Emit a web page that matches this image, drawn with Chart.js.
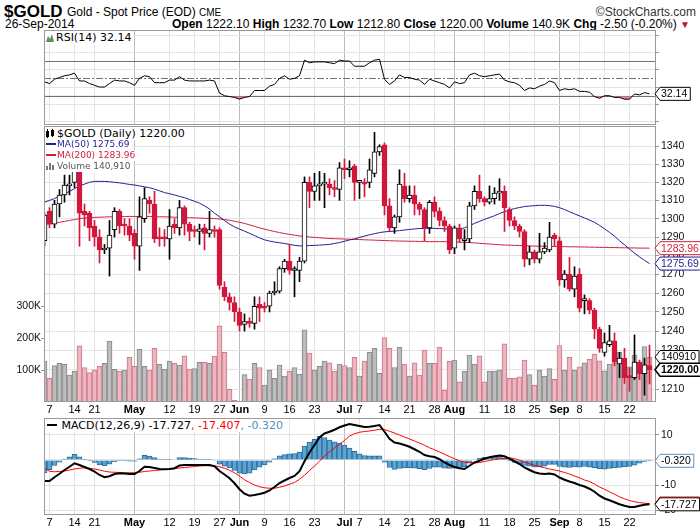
<!DOCTYPE html>
<html>
<head>
<meta charset="utf-8">
<script src="https://cdn.jsdelivr.net/npm/chart.js@4.4.1/dist/chart.umd.min.js"></script>
<style>
body { margin: 0; background: #fff; width: 700px; height: 530px; overflow: hidden; position: relative; font-family: "Liberation Sans", Arial, sans-serif; }
canvas { position: absolute; left: 0; }
.t { position: absolute; white-space: nowrap; line-height: 1; }
.lg { position: absolute; white-space: nowrap; background: #fff; font-family: "DejaVu Sans", sans-serif; line-height: 1; padding: 1px 2px 1px 1px; }
.ln { display: inline-block; width: 10px; height: 2px; vertical-align: middle; margin-right: 1px; position: relative; top: -1px; }
</style>
</head>
<body>
<div class="t" style="left:4px;top:3px;font-weight:bold;font-size:17px">$GOLD</div>
<div class="t" style="left:67px;top:6px;font-size:12px">Gold - Spot Price (EOD) <span style="font-size:10px">CME</span></div>
<div class="t" style="right:4px;top:6px;font-size:12px;color:#333">&copy;StockCharts.com</div>
<div class="t" style="left:5px;top:18px;font-size:12px">26-Sep-2014</div>
<div class="t" id="ohlc" style="right:10px;top:18px;font-size:12px"></div>

<canvas id="rsi" width="700" height="95" style="top:30px;width:700px;height:95px"></canvas>
<canvas id="price" width="700" height="291" style="top:126px;width:700px;height:291px"></canvas>
<canvas id="macd" width="700" height="112" style="top:418px;width:700px;height:112px"></canvas>

<div class="lg" id="rsiLegend" style="left:45px;top:31px;font-size:11px"></div>
<div class="lg" id="priceLegend1" style="left:45px;top:127px;font-size:11px"></div>
<div class="lg" id="priceLegend2" style="left:45px;top:139px;font-size:9px;color:#1f1f94"></div>
<div class="lg" id="priceLegend3" style="left:45px;top:150px;font-size:9px;color:#d21f3c"></div>
<div class="lg" id="priceLegend4" style="left:45px;top:161px;font-size:9px;color:#555"></div>
<div class="lg" id="macdLegend" style="left:46px;top:419px;font-size:11px"></div>

<script>
// trading days, 4 Apr 2014 .. 26 Sep 2014
const dates = [
  '04-04','04-07','04-08','04-09','04-10','04-11','04-14','04-15','04-16','04-17',
  '04-21','04-22','04-23','04-24','04-25','04-28','04-29','04-30','05-01','05-02',
  '05-05','05-06','05-07','05-08','05-09','05-12','05-13','05-14','05-15','05-16',
  '05-19','05-20','05-21','05-22','05-23','05-27','05-28','05-29','05-30','06-02',
  '06-03','06-04','06-05','06-06','06-09','06-10','06-11','06-12','06-13','06-16',
  '06-17','06-18','06-19','06-20','06-23','06-24','06-25','06-26','06-27','06-30',
  '07-01','07-02','07-03','07-07','07-08','07-09','07-10','07-11','07-14','07-15',
  '07-16','07-17','07-18','07-21','07-22','07-23','07-24','07-25','07-28','07-29',
  '07-30','07-31','08-01','08-04','08-05','08-06','08-07','08-08','08-11','08-12',
  '08-13','08-14','08-15','08-18','08-19','08-20','08-21','08-22','08-25','08-26',
  '08-27','08-28','08-29','09-02','09-03','09-04','09-05','09-08','09-09','09-10',
  '09-11','09-12','09-15','09-16','09-17','09-18','09-19','09-22','09-23','09-24',
  '09-25','09-26'
];

const xTickDates = ['04-07','04-14','04-21','05-01','05-12','05-19','05-27','06-02','06-09','06-16','06-23','07-01',
  '07-07','07-14','07-21','07-28','08-01','08-11','08-18','08-25','09-02','09-08','09-15','09-22'];
const xTickText = ['7','14','21','May','12','19','27','Jun','9','16','23','Jul',
  '7','14','21','28','Aug','11','18','25','Sep','8','15','22'];

const opens = [
  1288,1304,1297,1308,1313,1318,1320,1327,1304,1303,
  1296,1290,1283,1284,1294,1304,1297,1296,1292,1285,
  1300,1310,1308,1290,1290,1289,1297,1295,1306,1297,
  1294,1293,1295,1292,1294,1294,1263,1258,1255,1250,
  1243.5,1245,1244,1254,1253,1253,1260,1261,1273,1277,
  1272,1272,1277,1320,1315,1318,1319,1319,1317,1316,
  1328,1327,1329,1320,1320,1320,1325,1337,1341,1307,
  1295,1301,1318,1311,1313,1308,1305,1295,1309,1304,
  1299,1296,1284,1295,1288,1289,1307,1315,1311,1309,
  1311,1314,1315,1305,1299,1296,1293,1278,1282,1278,
  1282,1283,1291,1288,1267,1270,1262,1270,1256,1256,
  1251,1241,1229,1233,1235,1223,1226,1217,1216,1224,
  1218,1222.1
];
const highs = [
  1303,1306,1310,1316,1324,1324,1331,1330,1308,1304,
  1299,1294,1286,1299,1306,1305,1300,1300,1294,1312,
  1317,1312,1315,1295,1294,1305,1300,1310,1307,1298,
  1296,1297,1297,1304,1296,1295,1266,1260,1258,1252,
  1249,1247,1258,1258,1255,1261,1266,1274,1278,1286,
  1274,1279,1323,1323,1325,1326,1325,1322,1321,1331,
  1333,1332,1330,1321,1322,1333,1348,1341,1342,1311,
  1302,1327,1325,1318,1318,1309,1306,1310,1312,1306,
  1301,1297,1296,1297,1294,1309,1318,1324,1312,1318,
  1317,1322,1318,1306,1301,1297,1294,1285,1283,1292,
  1287,1298,1292,1290,1272,1279,1274,1273,1259,1257,
  1252,1242,1239,1243,1239,1229,1231,1221,1238,1225,
  1226,1232.7
];
const lows = [
  1285,1295,1295,1301,1309,1313,1317,1285,1296,1288,
  1285,1276,1281,1269,1290,1292,1291,1288,1278,1272,
  1298,1303,1287,1285,1285,1278,1292,1291,1291,1288,
  1290,1286,1283,1290,1290,1262,1256,1251,1245,1240,
  1240,1242,1241,1245,1250,1250,1259,1260,1271,1270,
  1258,1266,1276,1306,1310,1310,1306,1313,1312,1310,
  1322,1323,1310,1311,1312,1317,1323,1335,1302,1293,
  1292,1298,1309,1309,1302,1302,1288,1292,1301,1296,
  1293,1281,1281,1287,1283,1287,1305,1309,1307,1308,
  1308,1310,1293,1296,1294,1290,1274,1275,1276,1276,
  1281,1282,1285,1264,1263,1261,1258,1250,1249,1249,
  1236,1229,1227,1232,1222,1216,1213,1209,1215,1215,
  1207,1212.8
];
const closes = [
  1302,1297,1308,1313,1318.5,1319,1327,1303,1302,1295,
  1290,1283,1284,1291,1304,1296,1296,1291,1285,1301,
  1311,1308,1289,1289,1289,1296,1295,1306,1297,1293,
  1293,1294.5,1292,1294,1293,1264,1258,1255,1250,1243,
  1245,1244,1253,1252,1252,1260,1261,1273,1277,1272,
  1272.5,1277,1320,1315,1318,1319,1319.5,1317,1316,1328,
  1327,1328,1320,1320.5,1319,1327,1337,1340,1307,1295,
  1301,1319,1311,1313,1308,1305,1295,1309,1304,1299,
  1296,1283,1295,1289,1289,1307,1315,1311,1309,1311,
  1314,1315,1306,1299,1296,1293,1278,1282,1278,1282,
  1284,1290,1289,1267,1270,1262,1269,1252,1256.5,1251,
  1241,1231,1234,1235,1224,1226,1216,1216,1224,1218,
  1222.5,1220
];
// volume in thousands
const volumeK = [
  128,74,114,121,118,84,97,176,108,92,
  100,112,121,191,102,97,100,140,112,165,
  112,100,168,118,102,128,121,116,145,103,
  105,124,124,121,144,239,156,40,5,3,
  86,71,121,108,53,100,74,116,81,97,
  108,87,226,153,100,112,128,123,97,119,
  114,108,140,81,128,156,168,90,202,168,
  108,172,119,81,123,84,163,121,121,172,
  37,128,131,63,97,147,119,145,63,97,
  97,100,182,74,74,79,131,86,53,100,
  81,105,71,177,100,140,100,110,123,134,
  150,129,98,119,168,156,86,110,147,121,
  174,140.91
];
const ma50 = [
  1309,1310,1311,1312.5,1313.5,1315,1316.5,1318,1319,1320,
  1320.5,1320.5,1320.5,1320.3,1320,1319.7,1319.3,1318.8,1318.5,1318,
  1317.5,1317,1316.2,1315.3,1314.3,1313.7,1313,1312.2,1311.5,1310.5,
  1309.5,1308.5,1307,1305.3,1303,1301,1299,1297,1295.5,1294.3,
  1293.2,1292,1290.8,1289.5,1288.5,1287.8,1287.3,1286.9,1286.5,1286,
  1285.5,1285.2,1285.2,1285.4,1285.5,1285.6,1285.8,1286,1286.5,1287,
  1287.7,1288.4,1289,1289.8,1290.5,1291.2,1291.8,1292.4,1292.8,1293,
  1293.2,1293.5,1293.8,1294.1,1294.4,1294.6,1294.7,1294.7,1294.7,1294.6,
  1294.5,1294.2,1294,1294,1295,1296.2,1297.4,1298.5,1299.6,1300.6,
  1301.6,1302.8,1303.8,1304.8,1305.5,1306.1,1306.6,1306.9,1307.1,1307.3,
  1307.3,1307.1,1306.7,1306,1305,1303.8,1302.6,1301.5,1300.4,1299.2,
  1298,1296.3,1294.5,1292.5,1290.5,1288,1285.8,1283.5,1281.3,1279.3,
  1277.4,1275.69
];
const ma200 = [
  1296.8,1297.2,1297.6,1298,1298.5,1299,1299.5,1300,1300.3,1300.5,
  1300.7,1300.8,1300.9,1301,1301,1301.1,1301.1,1301.2,1301.2,1301.2,
  1301.2,1301.2,1301.1,1301,1301,1300.9,1300.8,1300.7,1300.6,1300.5,
  1300.4,1300.3,1300.2,1300.1,1300,1299.8,1299.5,1299.1,1298.6,1298,
  1297.4,1296.6,1295.8,1295,1294.3,1293.6,1293,1292.4,1291.9,1291.4,
  1291,1290.6,1290.3,1290,1289.8,1289.6,1289.4,1289.2,1289.1,1289,
  1288.9,1288.8,1288.7,1288.6,1288.5,1288.4,1288.3,1288.2,1288.1,1288,
  1287.9,1287.8,1287.8,1287.7,1287.7,1287.6,1287.6,1287.5,1287.5,1287.5,
  1287.5,1287.4,1287.3,1287.2,1287.1,1287,1286.8,1286.6,1286.4,1286.2,
  1286,1285.8,1285.7,1285.6,1285.5,1285.4,1285.3,1285.2,1285.1,1285,
  1285,1284.9,1284.9,1284.8,1284.8,1284.7,1284.7,1284.6,1284.6,1284.5,
  1284.5,1284.4,1284.4,1284.3,1284.3,1284.2,1284.2,1284.1,1284.1,1284,
  1284,1283.96
];
const rsi14 = [
  46,44,49,51,53,54,56,47,47,44,
  42,40,40,44,48,47,47,45,42,50,
  53,52,45,45,45,48,48,52,48,47,
  47,47,47,48,47,33,30,29,28,26,
  28,29,36,36,36,41,43,50,53,49,
  50,53,71,68,69,69,69,68,67,71,
  70,70,64,64,64,68,71,72,49,43,
  47,54,51,51,49,48,43,49,47,45,
  43,39,46,44,45,54,56,53,52,53,
  54,55,48,46,45,42,36,39,38,41,
  43,47,45,36,38,37,38,35,35,34,
  29,27,30,30,28,28,26,26,32,31,
  33.5,32.14
];
const macdLine = [
  -8.4,-8.4,-6.9,-5.5,-4,-2.7,-1.3,-2,-2.8,-3.6,
  -4.6,-6,-6.9,-6.5,-5.6,-5.3,-5.4,-5.6,-5.6,-4.4,
  -2.7,-2.8,-3.2,-3.6,-3.7,-3.6,-3.3,-2.2,-2,-2,
  -2,-2,-2,-2,-2.5,-4.4,-5.8,-7.3,-9.3,-11.7,
  -13.5,-14.3,-14,-13.6,-13.1,-12.2,-10.8,-9.2,-8.2,-7.2,
  -6.4,-4.5,-0.5,3,6,9,10.6,11.3,12.1,13.1,
  13.8,14.4,14,13.6,13.2,13.3,13.6,14,11.3,8.5,
  7,6.6,6,5.3,4.3,3.3,2,1.5,1.2,0.3,
  -1,-2,-2.8,-3.3,-3.6,-2.3,-1,-0.3,0.5,1.1,
  1.5,1.8,1.5,0.5,-0.5,-1.6,-3,-4,-4.9,-5.4,
  -5.6,-5.4,-5.8,-7,-7.9,-8.6,-9.2,-10,-10.6,-11.5,
  -12.7,-14.3,-15.4,-16.1,-16.9,-17.7,-18.3,-18.8,-18.8,-18.3,
  -17.9,-17.727
];
const signalLine = [
  -3.3,-4.5,-4.7,-4.6,-4.4,-4,-3.6,-3.3,-3.1,-3.3,
  -3.6,-4,-4.5,-4.8,-4.9,-5,-5.1,-5.1,-5.1,-4.9,
  -4.6,-4.4,-4.2,-4,-3.8,-3.7,-3.5,-3.2,-3,-2.8,
  -2.6,-2.4,-2.3,-2.3,-2.3,-2.7,-3.3,-4.1,-5.1,-6.4,
  -7.9,-9,-10,-10.7,-11.1,-11.3,-11.3,-10.9,-10.4,-9.7,
  -9,-7.7,-6.1,-4.2,-2.4,-0.5,1.6,3.3,4.8,6.3,
  7.8,9.6,10.5,11.1,11.4,11.6,11.9,12.3,12.2,11.5,
  10.8,10,9.2,8.4,7.6,6.8,5.9,4.9,4.1,3.2,
  2.3,1.4,0.5,-0.3,-0.9,-1.1,-1.2,-1,-0.6,-0.2,
  0.2,0.4,0.8,0.9,0.5,-0.1,-0.8,-1.5,-2.1,-2.6,
  -3.1,-3.6,-4,-4.4,-5,-5.6,-6.4,-7.1,-8,-8.6,
  -9.6,-10.8,-11.7,-12.7,-13.7,-14.7,-15.5,-16.2,-16.7,-17,
  -17.3,-17.407
];
const histogram = [
  -5.1,-3.9,-2.2,-0.9,0.4,1.3,2.3,1.3,0.3,-0.3,
  -1,-2,-2.4,-1.7,-0.7,-0.3,-0.3,-0.5,-0.5,0.5,
  1.9,1.6,1,0.4,0.1,0.1,0.2,1,1,0.8,
  0.6,0.4,0.3,0.3,-0.2,-1.7,-2.5,-3.2,-4.2,-5.3,
  -5.6,-5.3,-4,-2.9,-2,-0.9,0.5,1.7,2.2,2.5,
  2.6,3.2,5.6,7.2,8.4,9.5,9,8,7.3,6.8,
  6,4.8,3.5,2.5,1.8,1.7,1.7,1.7,-0.9,-3,
  -3.8,-3.4,-3.2,-3.1,-3.3,-3.5,-3.9,-3.4,-2.9,-2.9,
  -3.3,-3.4,-3.3,-3,-2.7,-1.2,0.2,0.7,1.1,1.3,
  1.3,1.4,0.7,-0.4,-1,-1.5,-2.2,-2.5,-2.8,-2.8,
  -2.5,-1.8,-1.8,-2.6,-2.9,-3,-2.8,-2.9,-2.6,-2.9,
  -3.1,-3.5,-3.7,-3.4,-3.2,-3,-2.8,-2.6,-2.1,-1.3,
  -0.6,-0.32
];

const priceTicks = [1210,1220,1230,1240,1250,1260,1270,1280,1290,1300,1310,1320,1330,1340];
const volumeTicks = [100,200,300];
const rsiTicks = [0,10,20,30,40,50,60,70,80,90,100];
const rsiLabels = [10,30,50,70,90];
const macdTicks = [-20,-15,-10,-5,0,5,10,15];
const macdLabels = [-20,-10,0,10];

const FONT = "'Liberation Sans', Arial, sans-serif";
const RED = '#d3163c';
const NAVY = '#1f1f94';
const MA_RED = '#d21f3c';
const last = closes.length - 1;
const xTickIdx = xTickDates.map(d => dates.indexOf(d));
const pt = arr => arr.map((v, k) => ({ x: k, y: v }));
const isMonth = i => isNaN(+xTickText[i]);

function xScale(showLabels) {
  return {
    type: 'linear', min: -0.1, max: 122.3, offset: false, bounds: 'data',
    afterBuildTicks: s => { s.ticks = xTickIdx.map(v => ({ value: v })); },
    afterFit: s => { s.height = showLabels ? 15 : 0; s.paddingLeft = 0; s.paddingRight = 0; },
    grid: { offset: false, drawTicks: false, color: c => isMonth(c.index) ? '#bcbcbc' : '#e3e3e3' },
    border: { display: false },
    ticks: {
      display: showLabels, autoSkip: false, maxRotation: 0, padding: 1, color: '#000',
      callback: (v, i) => xTickText[i],
      font: c => ({ family: FONT, size: 11, weight: isMonth(c.index) ? 'bold' : 'normal' })
    }
  };
}

function yRight(min, max, ticks, labelFn, type) {
  return {
    type: type || 'linear', position: 'right', min: min, max: max, bounds: 'data',
    afterBuildTicks: s => { s.ticks = ticks.map(v => ({ value: v })); },
    afterFit: s => { s.width = 44; s.paddingTop = 0; s.paddingBottom = 0; },
    grid: { color: '#e3e3e3', tickLength: 3, tickColor: '#999' },
    border: { display: false },
    ticks: { padding: 2, color: '#111', font: { family: FONT, size: 10.5 }, callback: labelFn }
  };
}

const frame = {
  id: 'frame',
  afterDatasetsDraw(chart) {
    const ctx = chart.ctx, a = chart.chartArea;
    ctx.save();
    ctx.strokeStyle = '#9a9a9a';
    ctx.lineWidth = 1;
    ctx.strokeRect(Math.round(a.left) + 0.5, Math.round(a.top) + 0.5, Math.round(a.width) - 1, Math.round(a.height) - 1);
    ctx.restore();
  }
};

function drawTag(ctx, x, y, t) {
  ctx.save();
  ctx.font = (t.bold ? 'bold ' : '') + '10.5px ' + FONT;
  const w = ctx.measureText(t.text).width;
  const h = 13;
  ctx.beginPath();
  ctx.moveTo(x, y);
  ctx.lineTo(x + 5, y - h / 2);
  ctx.lineTo(x + 9 + w, y - h / 2);
  ctx.lineTo(x + 9 + w, y + h / 2);
  ctx.lineTo(x + 5, y + h / 2);
  ctx.closePath();
  ctx.fillStyle = '#fff';
  ctx.fill();
  ctx.lineWidth = t.bold ? 1.6 : 1;
  ctx.strokeStyle = t.border;
  ctx.stroke();
  ctx.fillStyle = t.color;
  ctx.textBaseline = 'middle';
  ctx.fillText(t.text, x + 6, y + 0.5);
  ctx.restore();
}

function tagPlugin(items) {
  return {
    id: 'tags',
    afterDraw(chart) {
      const x0 = chart.chartArea.right - 1;
      items.forEach(t => drawTag(chart.ctx, x0, chart.scales[t.axis].getPixelForValue(t.value), t));
    }
  };
}

const rsiLevels = {
  id: 'rsiLevels',
  beforeDatasetsDraw(chart) {
    const ctx = chart.ctx, a = chart.chartArea, y = chart.scales.y;
    ctx.save();
    ctx.strokeStyle = '#707070';
    ctx.lineWidth = 1;
    [70, 50, 30].forEach(v => {
      const py = Math.round(y.getPixelForValue(v)) + 0.5;
      ctx.setLineDash(v === 50 ? [7, 2, 2, 2] : []);
      ctx.beginPath();
      ctx.moveTo(a.left, py);
      ctx.lineTo(a.right, py);
      ctx.stroke();
    });
    ctx.restore();
  }
};

const common = {
  responsive: false,
  animation: false,
  events: [],
  plugins: { legend: { display: false }, tooltip: { enabled: false } }
};

// RSI panel
new Chart(document.getElementById('rsi'), {
  type: 'line',
  data: {
    datasets: [{
      data: pt(rsi14), borderColor: '#000', borderWidth: 1, pointRadius: 0, tension: 0,
      fill: { target: { value: 30 }, above: 'rgba(0,0,0,0)', below: 'rgba(214,112,134,0.8)' }
    }]
  },
  options: Object.assign({}, common, {
    layout: { padding: { left: 44 } },
    scales: {
      x: xScale(false),
      y: yRight(-3.8, 105.8, rsiTicks, v => rsiLabels.includes(v) ? String(v) : '')
    }
  }),
  plugins: [rsiLevels, frame, tagPlugin([
    { axis: 'y', value: rsi14[last], text: rsi14[last].toFixed(2), border: '#000', color: '#000' }
  ])]
});

// price panel: candles from floating bars, MAs, volume
const bodies = closes.map((c, k) => ({ x: k, y: [opens[k], c] }));
const wicks = closes.map((c, k) => ({ x: k, y: [lows[k], highs[k]] }));
const down = closes.map((c, k) => c < opens[k]);
const volDown = closes.map((c, k) => k > 0 && c < closes[k - 1]);

const volAxis = {
  type: 'linear', position: 'left', min: 0, max: 865, bounds: 'data',
  afterBuildTicks: s => { s.ticks = volumeTicks.map(v => ({ value: v })); },
  afterFit: s => { s.width = 44; s.paddingTop = 0; s.paddingBottom = 0; },
  grid: { drawOnChartArea: false, tickLength: 3, tickColor: '#999' },
  border: { display: false },
  ticks: { padding: 0, color: '#111', font: { family: FONT, size: 10.5 }, callback: v => v + 'K' }
};

new Chart(document.getElementById('price'), {
  type: 'bar',
  data: {
    datasets: [
      {
        data: bodies, grouped: false, barThickness: 5, minBarLength: 2, borderWidth: 1, borderSkipped: false,
        backgroundColor: down.map(d => d ? RED : '#fff'),
        borderColor: down.map(d => d ? RED : '#000'), order: 0
      },
      {
        data: wicks, grouped: false, barThickness: 1, borderWidth: 0,
        backgroundColor: down.map(d => d ? RED : '#000'), order: 1
      },
      { type: 'line', data: pt(ma50), borderColor: NAVY, borderWidth: 1, pointRadius: 0, order: 2 },
      { type: 'line', data: pt(ma200), borderColor: MA_RED, borderWidth: 1, pointRadius: 0, order: 2 },
      {
        data: pt(volumeK), yAxisID: 'yVol', grouped: false, barThickness: 5, borderWidth: 1,
        backgroundColor: volDown.map(d => d ? 'rgba(234,178,188,0.9)' : 'rgba(184,184,184,0.9)'),
        borderColor: volDown.map(d => d ? '#d27a8a' : '#8c8c8c'), order: 3
      }
    ]
  },
  options: Object.assign({}, common, {
    scales: {
      x: xScale(true),
      y: yRight(1203.6, 1351.6, priceTicks, v => String(v), 'logarithmic'),
      yVol: volAxis
    }
  }),
  plugins: [frame, tagPlugin([
    { axis: 'y', value: ma200[last], text: ma200[last].toFixed(2), border: MA_RED, color: MA_RED },
    { axis: 'y', value: ma50[last], text: ma50[last].toFixed(2), border: NAVY, color: NAVY },
    { axis: 'yVol', value: volumeK[last], text: String(Math.round(volumeK[last] * 1000)), border: '#000', color: '#000' },
    { axis: 'y', value: closes[last], text: closes[last].toFixed(2), border: '#000', color: '#000', bold: true }
  ])]
});

// MACD panel
new Chart(document.getElementById('macd'), {
  type: 'bar',
  data: {
    datasets: [
      { type: 'line', data: pt(macdLine), borderColor: '#000', borderWidth: 2, pointRadius: 0, order: 0 },
      { type: 'line', data: pt(signalLine), borderColor: '#f00', borderWidth: 1, pointRadius: 0, order: 1 },
      {
        data: pt(histogram), grouped: false, barThickness: 5, borderWidth: 1,
        backgroundColor: '#5ba3d1', borderColor: '#2c6c9b', order: 2
      }
    ]
  },
  options: Object.assign({}, common, {
    layout: { padding: { left: 44 } },
    scales: {
      x: xScale(true),
      y: yRight(-22, 16.8, macdTicks, v => macdLabels.includes(v) ? String(v) : '')
    }
  }),
  plugins: [frame, tagPlugin([
    { axis: 'y', value: histogram[last], text: histogram[last].toFixed(3), border: '#5b8ec9', color: '#000' },
    { axis: 'y', value: signalLine[last], text: signalLine[last].toFixed(3), border: '#f00', color: '#f00' },
    { axis: 'y', value: macdLine[last], text: macdLine[last].toFixed(3), border: '#000', color: '#000' }
  ])]
});

// header and legends
const chg = closes[last] - closes[last - 1];
document.getElementById('ohlc').innerHTML =
  '<b>Open</b> ' + opens[last].toFixed(2) + ' <b>High</b> ' + highs[last].toFixed(2) +
  ' <b>Low</b> ' + lows[last].toFixed(2) + ' <b>Close</b> ' + closes[last].toFixed(2) +
  ' <b>Volume</b> ' + volumeK[last].toFixed(1) + 'K <b>Chg</b> ' + chg.toFixed(2) +
  ' (' + (chg / closes[last - 1] * 100).toFixed(2) + '%) <span style="color:#c8102e;font-size:10px">&#9660;</span>';

const mountain = '<svg width="8" height="8" style="vertical-align:-1px;margin-right:2px"><polygon points="0,8 2,2 4,5 6,0 8,8" fill="#5f8f5f"/></svg>';
const candleIcon = '<svg width="9" height="9" style="vertical-align:-1px;margin-right:2px"><rect x="0.5" y="2.5" width="2" height="5" fill="#fff" stroke="#000"/><line x1="1.5" y1="0" x2="1.5" y2="9" stroke="#000"/><rect x="5.5" y="1.5" width="2" height="5" fill="#000" stroke="#000"/><line x1="6.5" y1="0" x2="6.5" y2="8" stroke="#000"/></svg>';
const volIcon = '<svg width="9" height="8" style="vertical-align:-1px;margin-right:2px"><rect x="0" y="4" width="2" height="4" fill="#777"/><rect x="3" y="1" width="2" height="7" fill="#777"/><rect x="6" y="3" width="2" height="5" fill="#777"/></svg>';

document.getElementById('rsiLegend').innerHTML = mountain + 'RSI(14) ' + rsi14[last].toFixed(2);
document.getElementById('priceLegend1').innerHTML = candleIcon + '$GOLD (Daily) ' + closes[last].toFixed(2);
document.getElementById('priceLegend2').innerHTML = '<span class="ln" style="background:' + NAVY + '"></span>MA(50) ' + ma50[last].toFixed(2);
document.getElementById('priceLegend3').innerHTML = '<span class="ln" style="background:' + MA_RED + '"></span>MA(200) ' + ma200[last].toFixed(2);
document.getElementById('priceLegend4').innerHTML = volIcon + 'Volume ' + Math.round(volumeK[last] * 1000).toLocaleString('en-US');
document.getElementById('macdLegend').innerHTML = '<span class="ln" style="background:#000"></span> MACD(12,26,9) ' + macdLine[last].toFixed(3) +
  '<span style="color:#f00">, ' + signalLine[last].toFixed(3) + '</span><span style="color:#4a90c2">, ' + histogram[last].toFixed(3) + '</span>';
</script>
</body>
</html>
